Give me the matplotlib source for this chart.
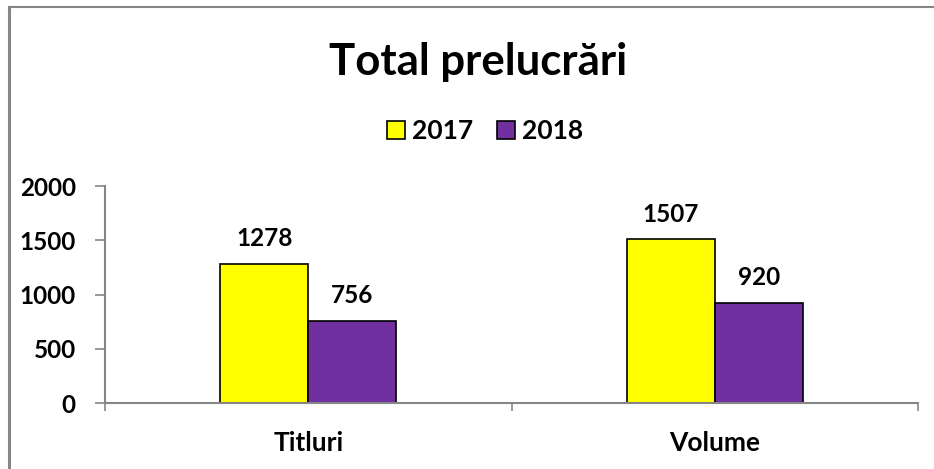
import numpy as np
import matplotlib.pyplot as plt
from matplotlib.lines import Line2D

# chart data
categories = ['Titluri', 'Volume']
series_names = ['2017', '2018']
values_2017 = [1278, 1507]
values_2018 = [756, 920]
y_ticks = [0, 500, 1000, 1500, 2000]

yellow = '#FFFF00'
purple = '#7030A0'
axis_gray = '#868686'

plt.rcParams['font.family'] = ['Lato', 'DejaVu Sans']
plt.rcParams['font.weight'] = 'bold'

fig = plt.figure(figsize=(9.34, 4.69), dpi=100)
ax = fig.add_axes([0.1124, 0.1407, 0.8705, 0.4627])

x = np.arange(len(categories))
w = 0.2165
b1 = ax.bar(x - w / 2, values_2017, w, color=yellow, edgecolor='black', linewidth=1.2, label=series_names[0])
b2 = ax.bar(x + w / 2, values_2018, w, color=purple, edgecolor='black', linewidth=1.2, label=series_names[1])

# value labels above bars
for bars in (b1, b2):
    for rect in bars:
        h = rect.get_height()
        ax.annotate(str(int(h)), (rect.get_x() + rect.get_width() / 2, h),
                    xytext=(0, 10), textcoords='offset points',
                    ha='center', va='bottom', fontsize=17.5, fontweight='bold')

ax.set_xlim(-0.5, 1.5)
ax.set_ylim(0, 2000)
ax.set_yticks(y_ticks)
ax.set_yticklabels([str(t) for t in y_ticks], fontsize=17.5, fontweight='bold')

# category labels centered, tick marks between categories
ax.set_xticks(x)
ax.set_xticklabels(categories, fontsize=19, fontweight='bold')
ax.tick_params(axis='x', length=0, pad=20)
ax.set_xticks([-0.5, 0.5, 1.5], minor=True)
ax.tick_params(axis='x', which='minor', length=6, direction='out', color=axis_gray, width=1.2)
ax.tick_params(axis='y', length=7, direction='out', color=axis_gray, width=1.2, pad=14)

for s in ['top', 'right']:
    ax.spines[s].set_visible(False)
for s in ['left', 'bottom']:
    ax.spines[s].set_color(axis_gray)
    ax.spines[s].set_linewidth(1.5)

fig.text(0.512, 0.868, 'Total prelucrări', ha='center', va='center', fontsize=31.5, fontweight='bold')

leg = fig.legend(handles=[b1, b2], loc='center', bbox_to_anchor=(0.519, 0.72), ncol=2,
                 frameon=False, handlelength=0.7, handleheight=0.7,
                 handletextpad=0.25, columnspacing=0.9, prop={'weight': 'bold', 'size': 19})

# chart area border (only left and top visible)
fig.add_artist(Line2D([0.0096, 0.0096], [0, 0.985], color=axis_gray, linewidth=2.2, transform=fig.transFigure))
fig.add_artist(Line2D([0.0096, 1.0], [0.985, 0.985], color=axis_gray, linewidth=1.5, transform=fig.transFigure))

fig.savefig('out.png', dpi=100)
